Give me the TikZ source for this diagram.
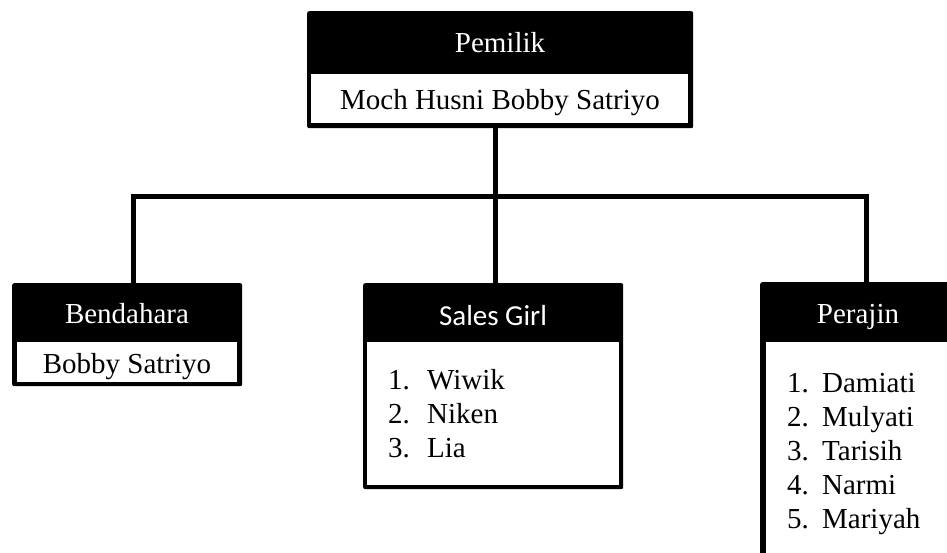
\documentclass[tikz,border=0pt]{standalone}
\usepackage{fontspec}
\setmainfont{Liberation Serif}
\newfontfamily\calibrifont{Carlito}
\begin{document}
\begin{tikzpicture}[x=1pt,y=-1pt,
  outerbox/.style={fill=black, draw=none, rounded corners=2pt, inner sep=0pt, anchor=north west},
  innerbox/.style={fill=white, draw=none, inner sep=0pt, anchor=north west},
  txt/.style={inner sep=0pt, anchor=base, font=\fontsize{29}{34}\selectfont},
  item/.style={inner sep=0pt, anchor=base west, font=\fontsize{29}{34}\selectfont},
  conn/.style={line width=5pt, line join=miter, line cap=rect}]
\useasboundingbox (0,0) rectangle (947,553);
\clip (0,0) rectangle (947,553);
% top box
\node[outerbox, minimum width=386pt, minimum height=117pt] (top) at (307,11) {};
\node[innerbox, minimum width=377pt, minimum height=49pt] (topin) at (311,74) {};
\node[txt, text=white] (toph) at (500,53) {Pemilik};
\node[txt] (topt) at (500,110) {Moch Husni Bobby Satriyo};
% Bendahara
\node[outerbox, minimum width=230pt, minimum height=103pt] (bend) at (12,283) {};
\node[innerbox, minimum width=220pt, minimum height=40pt] (bendin) at (17,342) {};
\node[txt, text=white] (bendh) at (127,323) {Bendahara};
\node[txt] (bendt) at (127,373) {Bobby Satriyo};
% Sales Girl
\node[outerbox, minimum width=260pt, minimum height=206pt] (sales) at (363,283) {};
\node[innerbox, minimum width=252pt, minimum height=143pt] (salesin) at (367,342) {};
\node[txt, text=white, font=\calibrifont\fontsize{29}{34}\selectfont] (salesh) at (493,325) {Sales Girl};
\node[item] (s1) at (388,389) {\makebox[39pt][l]{1.}Wiwik};
\node[item] (s2) at (388,423) {\makebox[39pt][l]{2.}Niken};
\node[item] (s3) at (388,457) {\makebox[39pt][l]{3.}Lia};
% Perajin
\node[outerbox, minimum width=196pt, minimum height=320pt] (per) at (760,282) {};
\node[innerbox, minimum width=190pt, minimum height=300pt] (perin) at (766,342) {};
\node[txt, text=white] (perh) at (858,323) {Perajin};
\node[item] (p1) at (787,392) {\makebox[35pt][l]{1.}Damiati};
\node[item] (p2) at (787,426) {\makebox[35pt][l]{2.}Mulyati};
\node[item] (p3) at (787,460) {\makebox[35pt][l]{3.}Tarisih};
\node[item] (p4) at (787,494) {\makebox[35pt][l]{4.}Narmi};
\node[item] (p5) at (787,528) {\makebox[35pt][l]{5.}Mariyah};
% connectors
\coordinate (j) at (495,197);
\coordinate (cl) at (133,197);
\coordinate (cr) at (866,197);
\draw[conn, line cap=butt] (top.south -| j) -- (j);
\draw[conn, line cap=butt] (j) -- (j |- sales.north);
\draw[conn, line cap=butt] (cl |- bend.north) -- (cl) -- (cr) -- (cr |- per.north);
\end{tikzpicture}
\end{document}
